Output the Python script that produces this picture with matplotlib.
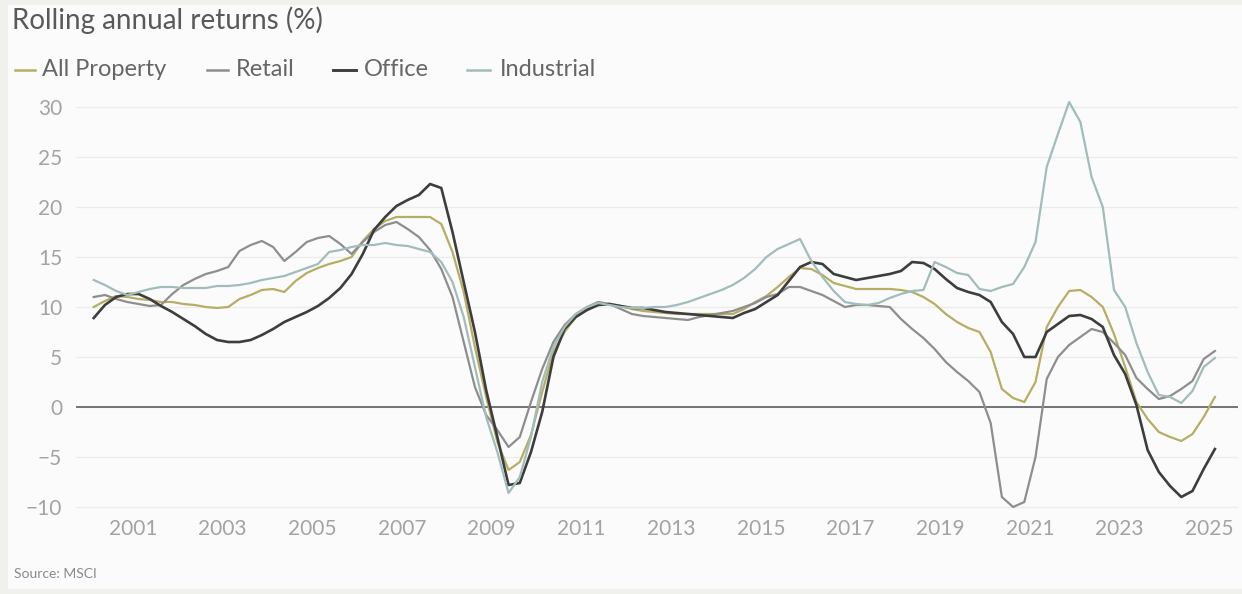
import numpy as np
import matplotlib
matplotlib.use('Agg')
import matplotlib.pyplot as plt
from matplotlib.lines import Line2D
from matplotlib.patches import Rectangle

plt.rcParams['font.family'] = ['Lato', 'DejaVu Sans']

# quarterly points, 2000 Q1 .. 2025 Q1 (plotted mid-quarter-ish)
quarters = 2000.125 + 0.25 * np.arange(101)

all_property = [
    10.0, 10.6, 11.1, 11.0, 10.8, 10.7, 10.5, 10.5, 10.3, 10.2,
    10.0, 9.9, 10.0, 10.8, 11.2, 11.7, 11.8, 11.5, 12.6, 13.4,
    13.9, 14.3, 14.6, 15.0, 16.6, 17.8, 18.6, 19.0, 19.0, 19.0,
    19.0, 18.3, 15.5, 11.5, 6.0, 1.0, -3.5, -6.3, -5.5, -2.8,
    1.5, 5.5, 7.5, 9.0, 9.8, 10.2, 10.3, 10.1, 9.8, 9.6,
    9.5, 9.4, 9.3, 9.3, 9.3, 9.3, 9.3, 9.3, 9.8, 10.5,
    11.1, 12.0, 13.0, 13.9, 13.8, 13.2, 12.4, 12.1, 11.8, 11.8,
    11.8, 11.8, 11.7, 11.5, 11.0, 10.3, 9.3, 8.5, 7.9, 7.5,
    5.5, 1.8, 0.9, 0.5, 2.5, 8.0, 10.0, 11.6, 11.7, 11.0,
    10.0, 7.3, 4.0, 0.5, -1.2, -2.5, -3.0, -3.4, -2.7, -1.0,
    1.0,
]

retail = [
    11.0, 11.2, 10.8, 10.5, 10.3, 10.1, 10.2, 11.3, 12.2, 12.8,
    13.3, 13.6, 14.0, 15.6, 16.2, 16.6, 16.0, 14.6, 15.5, 16.5,
    16.9, 17.1, 16.3, 15.3, 16.5, 17.5, 18.2, 18.5, 17.8, 17.0,
    15.7, 13.8, 11.0, 6.5, 2.0, -0.8, -2.3, -4.0, -3.0, 0.5,
    3.8, 6.5, 8.2, 9.3, 10.0, 10.5, 10.3, 9.8, 9.3, 9.1,
    9.0, 8.9, 8.8, 8.7, 9.0, 9.2, 9.4, 9.6, 10.0, 10.4,
    11.0, 11.3, 12.0, 12.0, 11.6, 11.2, 10.6, 10.0, 10.2, 10.2,
    10.1, 10.0, 8.8, 7.8, 6.9, 5.8, 4.5, 3.5, 2.6, 1.5,
    -1.6, -9.0, -10.0, -9.5, -5.0, 2.8, 5.0, 6.2, 7.0, 7.8,
    7.5, 6.4, 5.2, 2.9, 1.8, 0.8, 1.1, 1.8, 2.6, 4.8,
    5.6,
]

office = [
    8.9, 10.2, 11.0, 11.3, 11.3, 10.8, 10.1, 9.5, 8.8, 8.1,
    7.3, 6.7, 6.5, 6.5, 6.7, 7.2, 7.8, 8.5, 9.0, 9.5,
    10.1, 10.9, 11.9, 13.3, 15.3, 17.7, 19.0, 20.1, 20.7, 21.2,
    22.3, 21.9, 17.5, 12.5, 7.5, 1.7, -3.0, -7.8, -7.6, -4.5,
    -0.5, 5.0, 7.8, 9.0, 9.7, 10.2, 10.3, 10.1, 9.9, 9.9,
    9.7, 9.5, 9.4, 9.3, 9.2, 9.1, 9.0, 8.9, 9.4, 9.8,
    10.5, 11.2, 12.6, 14.0, 14.5, 14.3, 13.3, 13.0, 12.7, 12.9,
    13.1, 13.3, 13.6, 14.5, 14.4, 13.8, 12.8, 11.9, 11.5, 11.2,
    10.5, 8.5, 7.3, 5.0, 5.0, 7.5, 8.3, 9.1, 9.2, 8.8,
    8.0, 5.2, 3.3, 0.2, -4.3, -6.5, -7.9, -9.0, -8.4, -6.2,
    -4.2,
]

industrial = [
    12.7, 12.2, 11.6, 11.2, 11.5, 11.8, 12.0, 12.0, 11.9, 11.9,
    11.9, 12.1, 12.1, 12.2, 12.4, 12.7, 12.9, 13.1, 13.5, 13.9,
    14.3, 15.5, 15.7, 16.0, 16.2, 16.2, 16.4, 16.2, 16.1, 15.8,
    15.5, 14.5, 12.5, 9.0, 4.0, -1.0, -4.5, -8.6, -7.0, -3.0,
    2.5, 6.0, 8.0, 9.3, 10.0, 10.4, 10.2, 10.0, 9.9, 9.9,
    10.0, 10.0, 10.2, 10.5, 10.9, 11.3, 11.7, 12.2, 12.9, 13.8,
    15.0, 15.8, 16.3, 16.8, 14.6, 13.0, 11.6, 10.5, 10.3, 10.2,
    10.4, 10.9, 11.3, 11.6, 11.7, 14.5, 14.0, 13.4, 13.2, 11.8,
    11.6, 12.0, 12.3, 14.0, 16.5, 24.0, 27.3, 30.5, 28.5, 23.0,
    20.0, 11.7, 10.0, 6.4, 3.5, 1.2, 1.0, 0.4, 1.6, 4.0,
    4.9,
]

series_names = ["All Property", "Retail", "Office", "Industrial"]
series_colors = ["#b6ae64", "#8e8e8e", "#3d3d3d", "#a2bcbc"]
series_widths = [1.6, 1.6, 1.9, 1.6]
year_ticks = list(range(2001, 2026, 2))
y_ticks = [-10, -5, 0, 5, 10, 15, 20, 25, 30]

W, H = 1242, 594
fig = plt.figure(figsize=(W / 100, H / 100), dpi=100, facecolor="#f0f1ec")
# light panel behind the chart
fig.patches.append(Rectangle((8 / W, 0.008), 1 - 8 / W, 0.984, transform=fig.transFigure,
                             facecolor="#fbfbfb", edgecolor="none", zorder=-10))

ax = fig.add_axes([76 / W, 1 - 515 / H, 1162 / W, 418 / H])
ax.set_facecolor("none")

for vals, name, col, lw in zip([all_property, retail, office, industrial],
                               series_names, series_colors, series_widths):
    ax.plot(quarters, vals, color=col, lw=lw, label=name, zorder=3,
            solid_joinstyle="round")

ax.axhline(0, color="#6a6a6a", lw=1.3, zorder=2)
ax.set_xlim(1999.73, 2025.64)
ax.set_ylim(-10.8, 31.0)
ax.set_xticks(year_ticks)
ax.set_yticks(y_ticks)
ax.grid(axis="y", color="#ececec", lw=1.0, zorder=1)
ax.grid(axis="x", visible=False)
for s in ax.spines.values():
    s.set_visible(False)
ax.tick_params(axis="both", length=0, labelsize=15, colors="#a3a3a3")
ax.tick_params(axis="y", pad=10)
ax.tick_params(axis="x", pad=3)

# title, legend row and source line
fig.text(12 / W, 1 - 20 / H, "Rolling annual returns (%)", fontsize=20,
         color="#595959", va="center", ha="left")

leg_y = 1 - 70 / H
handle_x = [(15, 35), (207, 228), (333, 356), (467, 490)]
label_x = [42, 236, 364, 500]
for (x0, x1), lx, name, col, lw in zip(handle_x, label_x, series_names,
                                       series_colors, series_widths):
    fig.add_artist(Line2D([x0 / W, x1 / W], [leg_y, leg_y], color=col, lw=lw + 0.2,
                          transform=fig.transFigure))
    fig.text(lx / W, leg_y, name, fontsize=17, color="#666666", va="center", ha="left")

fig.text(14 / W, 1 - 574 / H, "Source: MSCI", fontsize=10, color="#8a8a8a",
         va="center", ha="left")

fig.savefig("out.png", dpi=100, facecolor=fig.get_facecolor())
